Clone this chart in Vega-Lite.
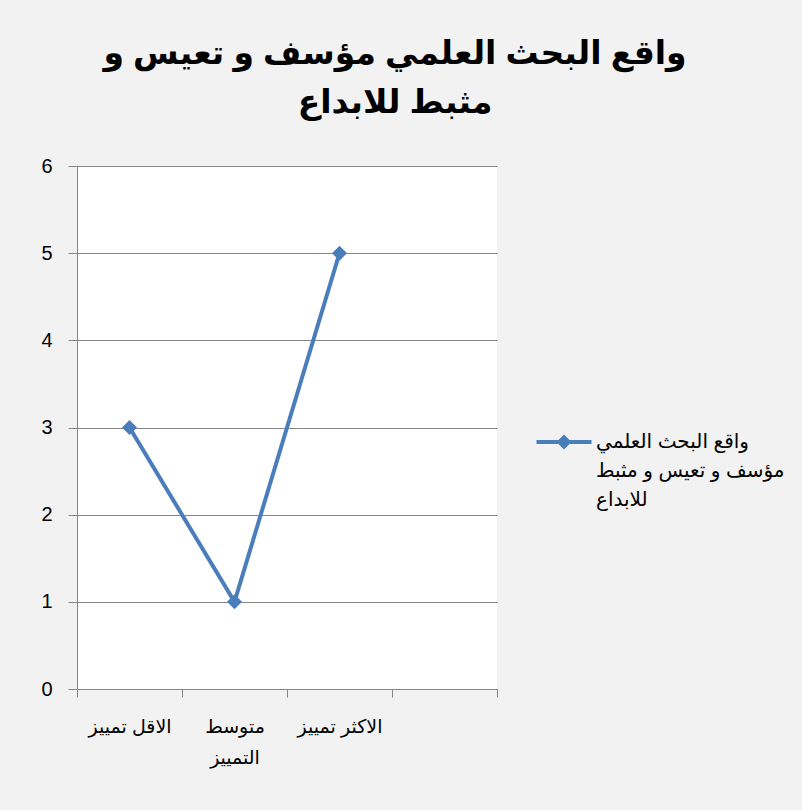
{
  "$schema": "https://vega.github.io/schema/vega-lite/v6.json",
  "width": 420,
  "height": 523,
  "autosize": {"type": "none"},
  "padding": {"left": 77, "top": 166, "right": 305, "bottom": 121},
  "background": "#F2F2F2",
  "title": {
    "text": ["واقع البحث العلمي مؤسف و تعيس و", "مثبط للابداع"],
    "font": "Liberation Sans, DejaVu Sans",
    "fontSize": 33,
    "fontWeight": "bold",
    "color": "black",
    "anchor": "middle",
    "dx": 108,
    "offset": 36,
    "lineHeight": 49
  },
  "config": {
    "view": {"fill": "white", "stroke": null}
  },
  "data": {
    "values": [
      {"category": "الاقل تمييز", "value": 3, "series": "واقع البحث العلمي مؤسف و تعيس و مثبط للابداع"},
      {"category": "متوسط التمييز", "value": 1, "series": "واقع البحث العلمي مؤسف و تعيس و مثبط للابداع"},
      {"category": "الاكثر تمييز", "value": 5, "series": "واقع البحث العلمي مؤسف و تعيس و مثبط للابداع"}
    ]
  },
  "encoding": {
    "x": {
      "field": "category",
      "type": "nominal",
      "sort": null,
      "bandPosition": 0.5,
      "scale": {"type": "band", "domain": ["الاقل تمييز", "متوسط التمييز", "الاكثر تمييز", " "], "paddingInner": 0, "paddingOuter": 0},
      "axis": {
        "title": null,
        "labelAngle": 0,
        "tickBand": "extent",
        "grid": false,
        "domainColor": "#868686",
        "tickColor": "#868686",
        "tickSize": 8,
        "labelPadding": 20,
        "labelFontSize": 19,
        "labelFont": "Liberation Sans, DejaVu Sans",
        "labelColor": "black",
        "labelBaseline": "top",
        "labelLineHeight": 31,
        "labelExpr": "datum.value == 'متوسط التمييز' ? ['متوسط', 'التمييز'] : datum.value"
      }
    },
    "y": {
      "field": "value",
      "type": "quantitative",
      "scale": {"domain": [0, 6], "nice": false},
      "axis": {
        "title": null,
        "values": [0, 1, 2, 3, 4, 5, 6],
        "grid": true,
        "gridColor": "#868686",
        "domainColor": "#868686",
        "tickColor": "#868686",
        "tickSize": 9,
        "labelPadding": 16,
        "labelFontSize": 20,
        "labelFont": "Liberation Sans",
        "labelColor": "black"
      }
    },
    "color": {
      "field": "series",
      "type": "nominal",
      "scale": {"range": ["#4A7EBB"]},
      "legend": {
        "orient": "none",
        "legendX": 477,
        "legendY": 266,
        "title": null,
        "padding": 0,
        "symbolType": "M-2.75,-0.2L2.75,-0.2L2.75,0.2L-2.75,0.2ZM0,-0.75L0.75,0L0,0.75L-0.75,0Z",
        "symbolSize": 400,
        "symbolStrokeWidth": 0,
        "symbolFillColor": "#4A7EBB",
        "symbolOpacity": 1,
        "labelOffset": 22,
        "labelFontSize": 20,
        "labelFont": "Liberation Sans, DejaVu Sans",
        "labelColor": "black",
        "labelLimit": 300,
        "labelBaseline": "top",
        "labelExpr": "['واقع البحث العلمي', 'مؤسف و تعيس و مثبط', 'للابداع']",
        "encode": {
          "labels": {"update": {"lineHeight": {"value": 29}, "dy": {"value": -10}}}
        }
      }
    }
  },
  "layer": [
    {"mark": {"type": "line", "strokeWidth": 4}},
    {"mark": {"type": "point", "shape": "diamond", "filled": true, "size": 225, "opacity": 1}}
  ]
}
